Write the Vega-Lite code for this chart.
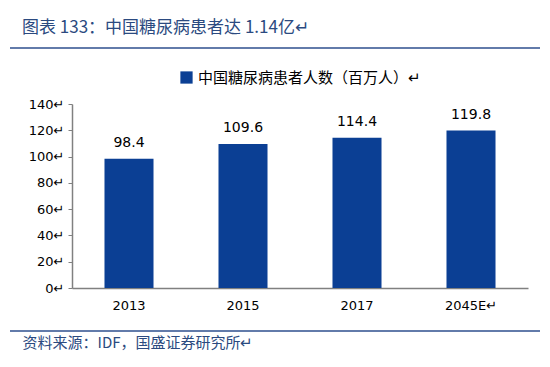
{
  "$schema": "https://vega.github.io/schema/vega-lite/v6.json",
  "width": 456,
  "height": 184,
  "autosize": {"type": "none"},
  "padding": {"left": 72, "top": 104, "right": 22, "bottom": 79},
  "background": "white",
  "title": {
    "text": "图表 133：中国糖尿病患者达 1.14亿↵",
    "anchor": "start",
    "frame": "group",
    "dx": -50,
    "offset": 10,
    "font": "Noto Sans CJK SC",
    "fontSize": 17,
    "fontWeight": "normal",
    "color": "#2b4a80"
  },
  "config": {
    "view": {"stroke": null},
    "axis": {"labelOverlap": false},
    "legend": {"layout": {"top": {"anchor": "middle"}}}
  },
  "datasets": {
    "bars": [
      {"year": "2013", "value": 98.4, "label": "98.4", "series": "中国糖尿病患者人数（百万人）↵"},
      {"year": "2015", "value": 109.6, "label": "109.6", "series": "中国糖尿病患者人数（百万人）↵"},
      {"year": "2017", "value": 114.4, "label": "114.4", "series": "中国糖尿病患者人数（百万人）↵"},
      {"year": "2045E", "value": 119.8, "label": "119.8", "series": "中国糖尿病患者人数（百万人）↵"}
    ],
    "lines": [
      {"pos": 182.6},
      {"pos": -32.7}
    ]
  },
  "encoding": {
    "y": {
      "field": "value",
      "type": "quantitative",
      "scale": {"domain": [0, 140]},
      "axis": {
        "title": null,
        "values": [0, 20, 40, 60, 80, 100, 120, 140],
        "tickCount": 8,
        "labelOverlap": false,
        "labelExpr": "datum.label + '↵'",
        "labelFont": "DejaVu Sans",
        "labelFontSize": 13,
        "labelColor": "#000000",
        "labelPadding": 4,
        "tickSize": 4,
        "tickColor": "#808080",
        "domainColor": "#808080",
        "domainWidth": 1.5,
        "grid": false
      }
    }
  },
  "layer": [
    {
      "data": {"name": "bars"},
      "mark": {"type": "bar"},
      "encoding": {
        "x": {
          "field": "year",
          "type": "nominal",
          "sort": null,
          "scale": {"paddingInner": 0.57, "paddingOuter": 0.285},
          "axis": {
            "title": "资料来源：IDF，国盛证券研究所↵",
            "titleFont": "Noto Sans CJK SC",
            "titleFontSize": 15,
            "titleFontWeight": "normal",
            "titleColor": "#2b4a80",
            "titleAnchor": "start",
            "titleAlign": "left",
            "titleX": -50,
            "titleY": 47,
            "labelAngle": 0,
            "labelExpr": "datum.value == '2045E' ? '2045E↵' : datum.value",
            "labelFont": "DejaVu Sans",
            "labelFontSize": 13,
            "labelColor": "#000000",
            "labelPadding": 11,
            "ticks": false,
            "domainColor": "#808080",
            "domainWidth": 1.5
          }
        },
        "color": {
          "field": "series",
          "type": "nominal",
          "scale": {"range": ["#0b3f94"]},
          "legend": {
            "title": null,
            "orient": "top",
            "symbolType": "square",
            "symbolSize": 150,
            "symbolOpacity": 1,
            "labelFont": "Noto Sans CJK SC",
            "labelFontSize": 15,
            "labelColor": "#000000",
            "labelLimit": 400,
            "offset": 18
          }
        }
      }
    },
    {
      "data": {"name": "bars"},
      "mark": {"type": "text", "baseline": "bottom", "dy": -9, "font": "DejaVu Sans", "fontSize": 14, "color": "#000000"},
      "encoding": {
        "x": {"field": "year", "type": "nominal", "sort": null},
        "text": {"field": "label"}
      }
    },
    {
      "data": {"name": "lines"},
      "mark": {"type": "rule", "color": "#2e4f8e", "strokeWidth": 1.5},
      "encoding": {
        "y": {"field": "pos", "type": "quantitative"},
        "x": {"value": -62},
        "x2": {"value": 468}
      }
    }
  ]
}
